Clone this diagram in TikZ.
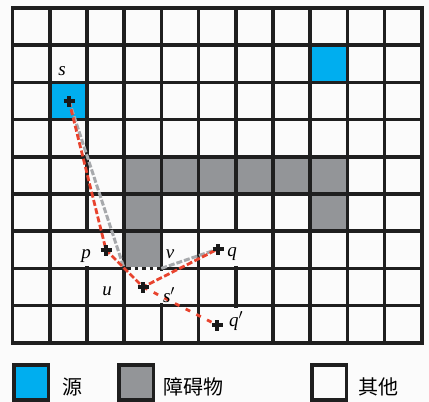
\documentclass[tikz,border=0pt]{standalone}
\usepackage{fontspec}
\setmainfont{Liberation Serif}
\newfontfamily\cjk{Noto Sans CJK SC}
\definecolor{bgc}{HTML}{FBFBFB}
\definecolor{srcblue}{HTML}{00AEEF}
\definecolor{obsgray}{HTML}{939598}
\definecolor{pathred}{HTML}{E8432E}
\definecolor{pathgray}{HTML}{A7A9AC}
\newcommand\gcell[2]{(12.5+37.2*#1, 8+37.2*#2) rectangle ++(37.2,37.2)}
\begin{document}
\begin{tikzpicture}[x=1pt,y=-1pt,
  gridline/.style={draw=black!88, line width=3.6pt, line cap=rect},
  patch/.style={fill=bgc},
  lbl/.style={font=\fontsize{19}{19}\selectfont\itshape, inner sep=0pt, anchor=base},
  legtext/.style={font=\cjk\fontsize{20}{20}\selectfont, inner sep=0pt},
  legbox/.style={draw=black!88, line width=3.6pt},
  plusmark/.style={draw=black!90, line width=3.2pt},
  redpath/.style={draw=pathred, line width=2.8pt, dash pattern=on 6pt off 2.5pt},
  redsparse/.style={draw=pathred, line width=2.8pt, dash pattern=on 5pt off 7pt},
  graypath/.style={draw=pathgray, line width=3pt, dash pattern=on 6pt off 2pt},
  dotedge/.style={draw=black!88, line width=3.4pt, dash pattern=on 3.5pt off 4pt}]
\useasboundingbox (0,0) rectangle (429,402);
\fill[bgc] (0,0) rectangle (429,402);
% coloured cells
\fill[srcblue] \gcell{1}{2};
\fill[srcblue] \gcell{8}{1};
\foreach \c in {3,...,8} \fill[obsgray] \gcell{\c}{4};
\fill[obsgray] \gcell{3}{5};
\fill[obsgray] \gcell{8}{5};
\fill[obsgray] \gcell{3}{6};
% grid
\foreach \i in {0,...,11} \draw[gridline] (12.5+37.2*\i, 8) -- (12.5+37.2*\i, 342.8);
\foreach \j in {0,...,9} \draw[gridline] (12.5, 8+37.2*\j) -- (421.7, 8+37.2*\j);
% label backgrounds covering grid lines
\fill[patch] (74,233.4) rectangle (100,266.2);
\fill[patch] (152,270.6) rectangle (182,303.4);
\fill[patch] (224,233.4) rectangle (248,266.2);
\fill[patch] (224,307.8) rectangle (252,340.6);
% dotted obstacle edge
\draw[draw=bgc, line width=3.8pt] (126.5,268.4) -- (159.3,268.4);
\draw[dotedge] (127,268.4) -- (161.3,268.4);
% named points
\node[coordinate] (s) at (69,101) {};
\node[coordinate] (p) at (106,250) {};
\node[coordinate] (sp) at (143,287) {};
\node[coordinate] (q) at (218,249) {};
\node[coordinate] (qp) at (217,325) {};
\coordinate (oc) at (124.1,268.4);
\coordinate (vc) at (161.3,268.4);
% paths
\draw[graypath] (s) -- (oc);
\draw[graypath] (vc) -- (q);
\draw[redpath] (s) -- (p) -- (sp) -- (q);
\draw[redsparse] (sp) -- (qp);
% markers
\foreach \n in {s,p,sp,q,qp}
  \draw[plusmark] ([xshift=-5.5pt]\n) -- ([xshift=5.5pt]\n) ([yshift=-5.5pt]\n) -- ([yshift=5.5pt]\n);
% labels
\node[lbl] (ls) at (62,75) {s};
\node[lbl] (lp) at (86,258) {p};
\node[lbl] (lv) at (170,258) {v};
\node[lbl] (lu) at (107,295) {u};
\node[lbl] (lsp) at (169,302) {s$'$};
\node[lbl] (lq) at (232,256) {q};
\node[lbl] (lqp) at (236,326) {q$'$};
% legend
\draw[legbox, fill=srcblue] (13.8,365) rectangle (48.4,400);
\draw[legbox, fill=obsgray] (118.7,365) rectangle (153.3,400);
\draw[legbox, fill=bgc] (311.7,365) rectangle (346.3,400);
\node[legtext] (t1) at (72,387) {源};
\node[legtext] (t2) at (193,387) {障碍物};
\node[legtext] (t3) at (378,387) {其他};
\end{tikzpicture}
\end{document}
